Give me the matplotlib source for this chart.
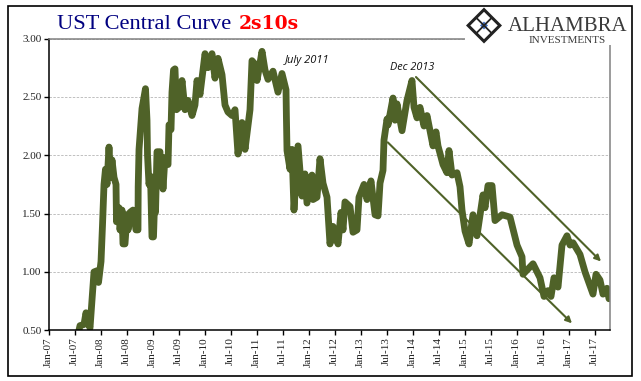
import matplotlib
matplotlib.use('Agg')
import matplotlib.pyplot as plt
from matplotlib.patches import Polygon, Rectangle

# months since Jan-07
months = [6.8, 7.27, 8.19, 8.65, 9.12, 9.58, 10.04, 10.5, 11.19, 11.54, 12.12, 12.46, 12.81, 13.15, 13.5,
          13.96, 14.31, 14.65, 15.12, 15.58, 15.69, 16.27, 16.5, 16.96, 17.19, 17.65, 18.12, 18.35, 18.81, 19.5,
          20.19, 20.65, 20.7, 20.89, 21.35, 21.58, 22.04, 22.38, 22.73, 22.85, 23.19, 23.54, 23.88, 24.23, 24.46,
          24.69, 25.04, 25.73, 25.85, 26.08, 26.42, 26.88, 27.58, 27.81, 28.27, 28.5, 28.85, 29.19, 29.54, 30.12,
          30.81, 31.5, 32.19, 33.12, 33.8, 34.27, 34.96, 36.12, 36.81, 37.73, 38.42, 39.12, 40.04, 40.73, 41.42,
          42.35, 43.04, 43.73, 44.65, 45.35, 46.5, 46.96, 47.65, 48.12, 49.27, 49.96, 50.65, 51.81, 52.96, 53.88,
          54.81, 54.9, 55.04, 55.73, 56.19, 56.65, 57.58, 58.5, 59.19, 59.65, 60.81, 61.04, 61.96, 62.65, 63.35,
          64.27, 64.96, 65.65, 66.81, 67.5, 67.96, 68.42, 69.58, 70.27, 71.19, 71.65, 72.81, 73.5, 74.42, 75.35,
          76.04, 76.5, 77.19, 77.42, 78.12, 78.35, 79.5, 79.96, 80.42, 81.58, 82.73, 83.88, 84.35, 85.04, 85.73,
          86.65, 87.35, 88.73, 89.42, 89.88, 91.04, 91.96, 92.42, 93.12, 94.27, 94.96, 95.42, 96.12, 97.04, 97.96,
          98.88, 100.27, 100.73, 101.42, 102.35, 103.04, 104.65, 106.5, 108.12, 109.27, 109.5, 111.81, 113.42, 114.35, 115.27,
          115.96, 116.65, 117.58, 118.5, 119.65, 120.35, 121.04, 122.65, 123.81, 125.65, 126.35, 127.27, 127.96, 128.88, 129.35]
spread = [0.46, 0.54, 0.55, 0.65, 0.57, 0.52, 0.76, 1.00, 1.01, 0.91, 1.09, 1.40, 1.75, 1.88, 1.75,
          2.07, 1.81, 1.96, 1.81, 1.75, 1.43, 1.55, 1.36, 1.53, 1.24, 1.24, 1.49, 1.36, 1.51, 1.53,
          1.36, 1.36, 1.73, 2.05, 2.28, 2.40, 2.50, 2.57, 2.30, 2.00, 1.75, 1.82, 1.30, 1.30, 1.57,
          1.51, 2.03, 2.03, 1.75, 1.98, 1.71, 1.98, 1.92, 2.26, 2.22, 2.54, 2.73, 2.74, 2.39, 2.41,
          2.64, 2.39, 2.47, 2.34, 2.43, 2.64, 2.52, 2.87, 2.75, 2.87, 2.66, 2.83, 2.69, 2.43, 2.37,
          2.34, 2.39, 2.01, 2.28, 2.05, 2.39, 2.81, 2.78, 2.64, 2.89, 2.73, 2.65, 2.72, 2.54, 2.70,
          2.56, 2.33, 2.04, 1.88, 2.05, 1.53, 2.08, 1.65, 1.84, 1.59, 1.83, 1.62, 1.64, 1.97, 1.76,
          1.64, 1.24, 1.39, 1.24, 1.51, 1.36, 1.60, 1.56, 1.34, 1.36, 1.64, 1.75, 1.62, 1.78, 1.49,
          1.48, 1.76, 1.87, 2.13, 2.31, 2.26, 2.49, 2.30, 2.44, 2.21, 2.47, 2.64, 2.41, 2.32, 2.41,
          2.25, 2.34, 2.08, 2.20, 2.08, 1.92, 1.85, 2.04, 1.83, 1.85, 1.73, 1.53, 1.35, 1.24, 1.49,
          1.31, 1.66, 1.55, 1.74, 1.74, 1.44, 1.49, 1.47, 1.23, 1.13, 0.98, 1.07, 0.95, 0.79, 0.84,
          0.79, 0.95, 0.87, 1.23, 1.31, 1.23, 1.25, 1.15, 1.00, 0.81, 0.98, 0.93, 0.81, 0.86, 0.77]

tick_labels = ['Jan-07', 'Jul-07', 'Jan-08', 'Jul-08', 'Jan-09', 'Jul-09', 'Jan-10', 'Jul-10', 'Jan-11', 'Jul-11',
               'Jan-12', 'Jul-12', 'Jan-13', 'Jul-13', 'Jan-14', 'Jul-14', 'Jan-15', 'Jul-15', 'Jan-16', 'Jul-16',
               'Jan-17', 'Jul-17']
y_ticks = [0.5, 1.0, 1.5, 2.0, 2.5, 3.0]

olive = '#4f6228'
W, H = 641, 381

fig = plt.figure(figsize=(W / 100, H / 100), dpi=100, facecolor='white')
ax = fig.add_axes([48.5 / W, 1 - 330.3 / H, 561 / W, 291.8 / H])

ax.plot(months, spread, color=olive, lw=4.9, solid_joinstyle='round', solid_capstyle='round')
ax.set_xlim(0, 129.46)
ax.set_ylim(0.5, 3.0)

ax.set_yticks(y_ticks)
ax.set_yticklabels(['%.2f' % v for v in y_ticks], family='Liberation Serif', fontsize=8, color='#222222')
ax.set_xticks([i * 6 for i in range(len(tick_labels))])
ax.set_xticklabels(tick_labels, rotation=90, family='Liberation Serif', fontsize=8, color='#222222')
ax.tick_params(axis='both', length=3.5, width=1, pad=1.5, color='black')
ax.grid(axis='y', color='#c0c0c0', lw=0.7, ls=(0, (2.5, 1.5)))
ax.set_axisbelow(True)

ax.spines['left'].set_linewidth(1.1)
ax.spines['bottom'].set_linewidth(1.1)
ax.spines['top'].set_color('#808080')
ax.spines['right'].set_color('#808080')
ax.spines['top'].set_linewidth(1.1)
ax.spines['right'].set_linewidth(1.1)

# trend arrows
for start, end in [((84.8, 2.67), (127.5, 1.09)), ((78.3, 2.11), (120.8, 0.56))]:
    ax.annotate('', xy=end, xytext=start,
                arrowprops=dict(arrowstyle='-|>', color=olive, lw=1.5, mutation_scale=9,
                                shrinkA=0, shrinkB=0))

ax.text(54.6, 2.81, 'July 2011', family='Open Sans', style='italic', fontsize=8, va='center', color='#111111')
ax.text(78.8, 2.755, 'Dec 2013', family='Open Sans', style='italic', fontsize=7.8, va='center', color='#111111')

# overlay in pixels for the frame, title and logo
top = fig.add_axes([0, 0, 1, 1], facecolor='none')
top.set_xlim(0, W)
top.set_ylim(H, 0)
top.axis('off')
top.add_patch(Rectangle((7.5, 6), 624, 370, fill=False, ec='black', lw=1.2))

top.text(57, 29, 'UST Central Curve', family='Liberation Serif', fontsize=16.1, color='#000080', va='baseline')
top.text(239, 29, '2s10s', family='DejaVu Serif', weight='bold', fontsize=13.5, color='#ff0000', va='baseline')

# logo, white block hides the corner of the plot frame
top.add_patch(Rectangle((465, 8), 164, 37, fc='white', ec='none'))
cx, cy = 484, 25.5
ink = '#222222'
top.add_patch(Polygon([(cx, cy - 18), (cx + 18, cy), (cx, cy + 18), (cx - 18, cy)], fc=ink, ec='none'))
top.add_patch(Polygon([(cx, cy - 15), (cx + 15, cy), (cx, cy + 15), (cx - 15, cy)], fc='white', ec='none'))
for d in [-7.5, 0, 7.5]:
    top.plot([cx - 7.5 + d, cx + 7.5 + d], [cy - 7.5 - d, cy + 7.5 - d], color=ink, lw=1.3)
    top.plot([cx - 7.5 + d, cx + 7.5 + d], [cy + 7.5 + d, cy - 7.5 + d], color=ink, lw=1.3)
top.add_patch(Polygon([(cx, cy - 5), (cx + 5, cy), (cx, cy + 5), (cx - 5, cy)], fc='#4472c4', ec='white', lw=1))
top.text(508, 31, 'ALHAMBRA', family='Liberation Serif', fontsize=15, color='#3a3a3a', va='baseline')
top.text(529, 43, 'INVESTMENTS', family='Liberation Serif', fontsize=8, color='#3a3a3a', va='baseline')

fig.savefig('out.png', dpi=100)
